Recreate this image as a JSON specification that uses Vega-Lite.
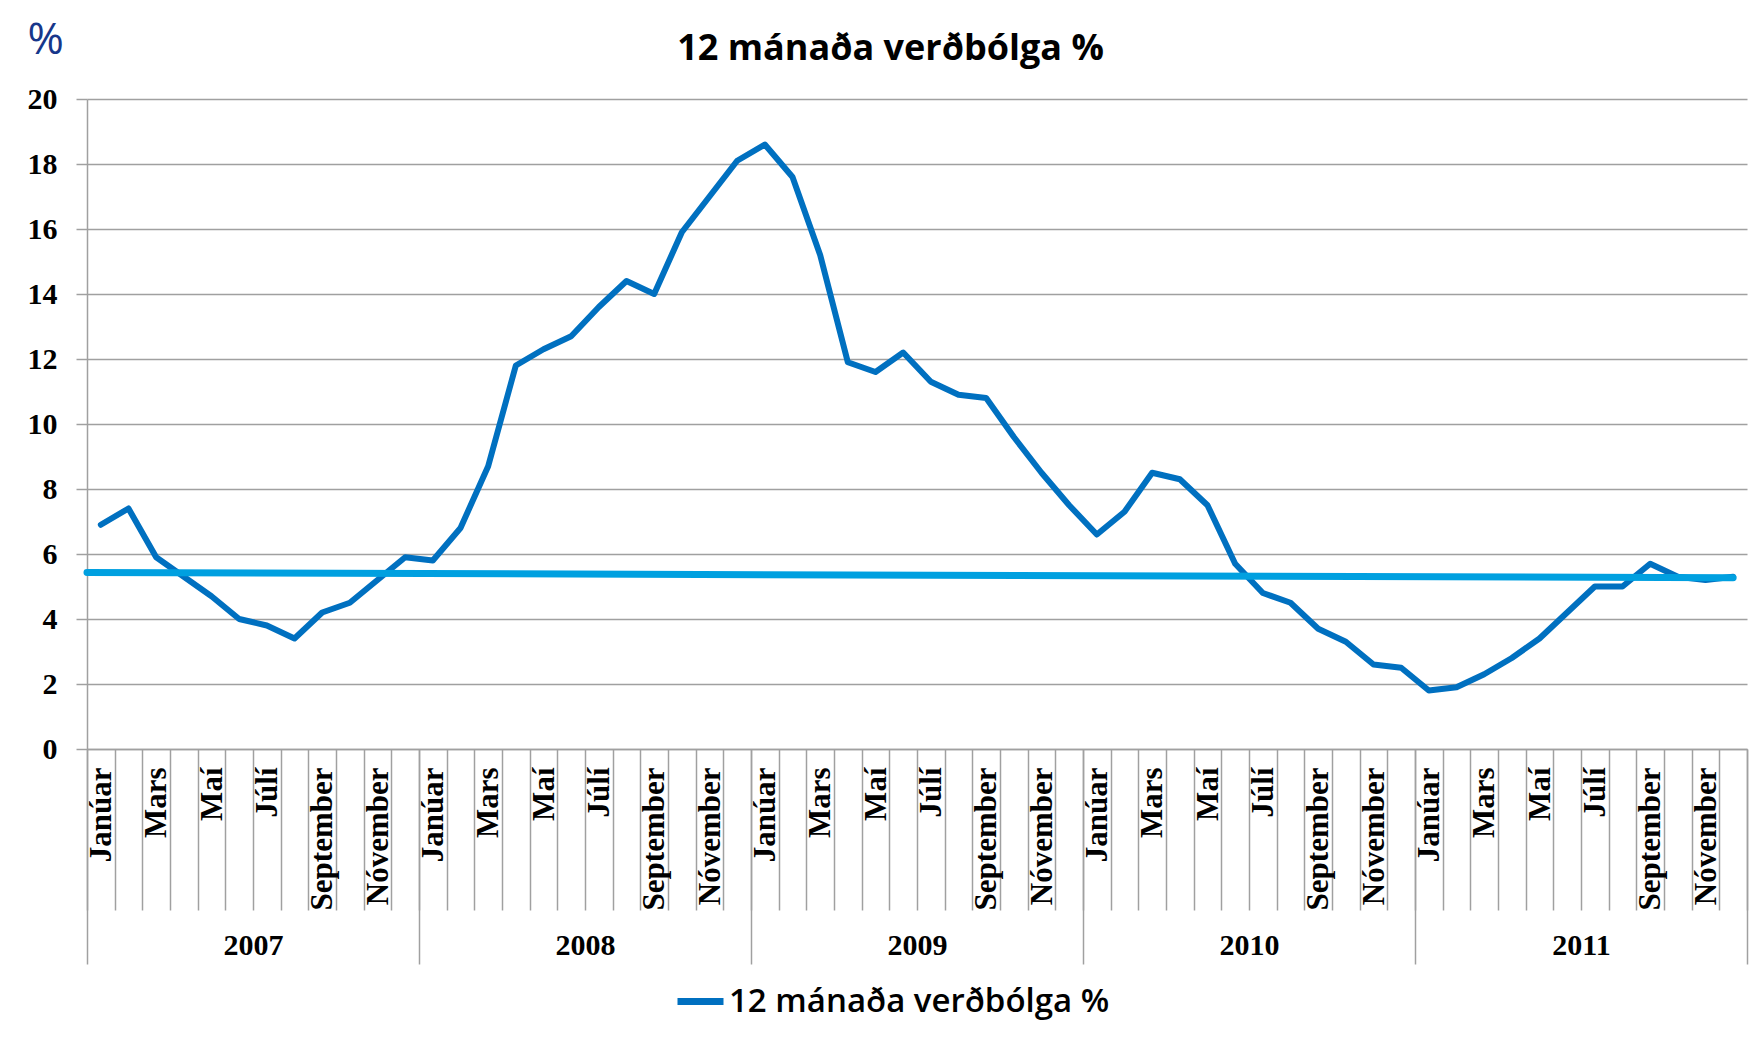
{
  "$schema": "https://vega.github.io/schema/vega-lite/v6.json",
  "width": 1660,
  "height": 650,
  "autosize": "none",
  "padding": {"left": 87, "top": 99, "right": 17, "bottom": 289},
  "background": "white",
  "config": {
    "view": {"stroke": null},
    "axis": {"labelOverlap": false, "labelFlush": false, "labelBound": false}
  },
  "datasets": {
    "cpi": [
      {"i": 0, "month": "Janúar 2007", "v": 6.9},
      {"i": 1, "month": "Febrúar 2007", "v": 7.4},
      {"i": 2, "month": "Mars 2007", "v": 5.9},
      {"i": 3, "month": "Apríl 2007", "v": 5.3},
      {"i": 4, "month": "Maí 2007", "v": 4.7},
      {"i": 5, "month": "Júní 2007", "v": 4.0},
      {"i": 6, "month": "Júlí 2007", "v": 3.8},
      {"i": 7, "month": "Ágúst 2007", "v": 3.4},
      {"i": 8, "month": "September 2007", "v": 4.2},
      {"i": 9, "month": "Október 2007", "v": 4.5},
      {"i": 10, "month": "Nóvember 2007", "v": 5.2},
      {"i": 11, "month": "Desember 2007", "v": 5.9},
      {"i": 12, "month": "Janúar 2008", "v": 5.8},
      {"i": 13, "month": "Febrúar 2008", "v": 6.8},
      {"i": 14, "month": "Mars 2008", "v": 8.7},
      {"i": 15, "month": "Apríl 2008", "v": 11.8},
      {"i": 16, "month": "Maí 2008", "v": 12.3},
      {"i": 17, "month": "Júní 2008", "v": 12.7},
      {"i": 18, "month": "Júlí 2008", "v": 13.6},
      {"i": 19, "month": "Ágúst 2008", "v": 14.4},
      {"i": 20, "month": "September 2008", "v": 14.0},
      {"i": 21, "month": "Október 2008", "v": 15.9},
      {"i": 22, "month": "Nóvember 2008", "v": 17.0},
      {"i": 23, "month": "Desember 2008", "v": 18.1},
      {"i": 24, "month": "Janúar 2009", "v": 18.6},
      {"i": 25, "month": "Febrúar 2009", "v": 17.6},
      {"i": 26, "month": "Mars 2009", "v": 15.2},
      {"i": 27, "month": "Apríl 2009", "v": 11.9},
      {"i": 28, "month": "Maí 2009", "v": 11.6},
      {"i": 29, "month": "Júní 2009", "v": 12.2},
      {"i": 30, "month": "Júlí 2009", "v": 11.3},
      {"i": 31, "month": "Ágúst 2009", "v": 10.9},
      {"i": 32, "month": "September 2009", "v": 10.8},
      {"i": 33, "month": "Október 2009", "v": 9.6},
      {"i": 34, "month": "Nóvember 2009", "v": 8.5},
      {"i": 35, "month": "Desember 2009", "v": 7.5},
      {"i": 36, "month": "Janúar 2010", "v": 6.6},
      {"i": 37, "month": "Febrúar 2010", "v": 7.3},
      {"i": 38, "month": "Mars 2010", "v": 8.5},
      {"i": 39, "month": "Apríl 2010", "v": 8.3},
      {"i": 40, "month": "Maí 2010", "v": 7.5},
      {"i": 41, "month": "Júní 2010", "v": 5.7},
      {"i": 42, "month": "Júlí 2010", "v": 4.8},
      {"i": 43, "month": "Ágúst 2010", "v": 4.5},
      {"i": 44, "month": "September 2010", "v": 3.7},
      {"i": 45, "month": "Október 2010", "v": 3.3},
      {"i": 46, "month": "Nóvember 2010", "v": 2.6},
      {"i": 47, "month": "Desember 2010", "v": 2.5},
      {"i": 48, "month": "Janúar 2011", "v": 1.8},
      {"i": 49, "month": "Febrúar 2011", "v": 1.9},
      {"i": 50, "month": "Mars 2011", "v": 2.3},
      {"i": 51, "month": "Apríl 2011", "v": 2.8},
      {"i": 52, "month": "Maí 2011", "v": 3.4},
      {"i": 53, "month": "Júní 2011", "v": 4.2},
      {"i": 54, "month": "Júlí 2011", "v": 5.0},
      {"i": 55, "month": "Ágúst 2011", "v": 5.0},
      {"i": 56, "month": "September 2011", "v": 5.7},
      {"i": 57, "month": "Október 2011", "v": 5.3},
      {"i": 58, "month": "Nóvember 2011", "v": 5.2},
      {"i": 59, "month": "Desember 2011", "v": 5.3}
    ],
    "trend": [
      {"i": -0.5, "v": 5.43},
      {"i": 59, "v": 5.27}
    ]
  },
  "layer": [
    {
      "data": {"name": "cpi"},
      "mark": {"type": "line", "strokeWidth": 6, "strokeJoin": "round", "strokeCap": "round"},
      "encoding": {
        "x": {
          "field": "i",
          "type": "quantitative",
          "scale": {"domain": [-0.5, 59.5], "nice": false, "zero": false},
          "axis": {
            "orient": "bottom",
            "title": null,
            "values": [-0.5, 0.5, 1.5, 2.5, 3.5, 4.5, 5.5, 6.5, 7.5, 8.5, 9.5, 10.5, 11.5, 12.5, 13.5, 14.5, 15.5, 16.5, 17.5, 18.5, 19.5, 20.5, 21.5, 22.5, 23.5, 24.5, 25.5, 26.5, 27.5, 28.5, 29.5, 30.5, 31.5, 32.5, 33.5, 34.5, 35.5, 36.5, 37.5, 38.5, 39.5, 40.5, 41.5, 42.5, 43.5, 44.5, 45.5, 46.5, 47.5, 48.5, 49.5, 50.5, 51.5, 52.5, 53.5, 54.5, 55.5, 56.5, 57.5, 58.5, 59.5],
            "domain": true,
            "domainColor": "#a0a0a0",
            "domainWidth": 1.5,
            "grid": false,
            "ticks": true,
            "tickSize": 161,
            "tickColor": "#a0a0a0",
            "tickWidth": 1.5,
            "labelAngle": 270,
            "labelAlign": "right",
            "labelBaseline": "middle",
            "labelPadding": -143,
            "labelOffset": 14.5,
            "labelFont": "Liberation Serif",
            "labelFontWeight": "bold",
            "labelFontSize": 31,
            "labelColor": "#000000",
            "labelExpr": "datum.value > 59 ? '' : ['Janúar','','Mars','','Maí','','Júlí','','September','','Nóvember',''][(datum.value + 0.5) % 12]"
          }
        },
        "y": {
          "field": "v",
          "type": "quantitative",
          "scale": {"domain": [0, 20], "nice": false, "zero": true},
          "axis": {
            "orient": "left",
            "values": [0, 2, 4, 6, 8, 10, 12, 14, 16, 18, 20],
            "grid": true,
            "gridColor": "#a0a0a0",
            "gridWidth": 1.5,
            "domain": true,
            "domainColor": "#a0a0a0",
            "domainWidth": 1.5,
            "ticks": true,
            "tickSize": 11,
            "tickColor": "#a0a0a0",
            "tickWidth": 1.5,
            "labelPadding": 19,
            "labelFont": "Liberation Serif",
            "labelFontWeight": "bold",
            "labelFontSize": 30,
            "labelColor": "#000000",
            "title": "%",
            "titleFont": "Open Sans",
            "titleFontSize": 44,
            "titleFontWeight": "normal",
            "titleColor": "#17378b",
            "titleAngle": 0,
            "titleAlign": "left",
            "titleBaseline": "alphabetic",
            "titleX": -60,
            "titleY": -46
          }
        },
        "color": {
          "datum": "12 mánaða  verðbólga %",
          "type": "nominal",
          "scale": {"range": ["#0070c0"]},
          "legend": {
            "orient": "none",
            "legendX": 587,
            "legendY": 876,
            "direction": "horizontal",
            "title": null,
            "symbolType": "stroke",
            "symbolStrokeWidth": 7,
            "symbolSize": 2116,
            "labelFont": "Open Sans",
            "labelFontSize": 33,
            "labelFontWeight": 600,
            "labelColor": "#000000",
            "labelOffset": 2,
            "labelLimit": 1000
          }
        }
      }
    },
    {
      "data": {"name": "trend"},
      "mark": {"type": "line", "color": "#00a0e0", "strokeWidth": 7, "strokeCap": "round"},
      "encoding": {
        "x": {
          "field": "i",
          "type": "quantitative",
          "axis": {
            "orient": "bottom",
            "title": null,
            "values": [-0.5, 11.5, 23.5, 35.5, 47.5, 59.5],
            "domain": false,
            "grid": false,
            "ticks": true,
            "tickSize": 215,
            "tickColor": "#a0a0a0",
            "tickWidth": 1.5,
            "labelAngle": 0,
            "labelAlign": "center",
            "labelBaseline": "top",
            "labelPadding": -34,
            "labelOffset": 166,
            "labelFont": "Liberation Serif",
            "labelFontWeight": "bold",
            "labelFontSize": 30,
            "labelColor": "#000000",
            "labelExpr": "datum.value > 59 ? '' : '' + (2007 + (datum.value + 0.5) / 12)"
          }
        },
        "y": {
          "field": "v",
          "type": "quantitative",
          "axis": {
            "orient": "right",
            "labels": false,
            "ticks": false,
            "domain": false,
            "grid": false,
            "title": "12 mánaða verðbólga %",
            "titleFont": "Open Sans",
            "titleFontSize": 36,
            "titleFontWeight": "bold",
            "titleColor": "#000000",
            "titleAngle": 0,
            "titleAlign": "center",
            "titleBaseline": "alphabetic",
            "titleX": -857,
            "titleY": -40
          }
        }
      }
    }
  ],
  "resolve": {"axis": {"x": "independent", "y": "independent"}}
}
